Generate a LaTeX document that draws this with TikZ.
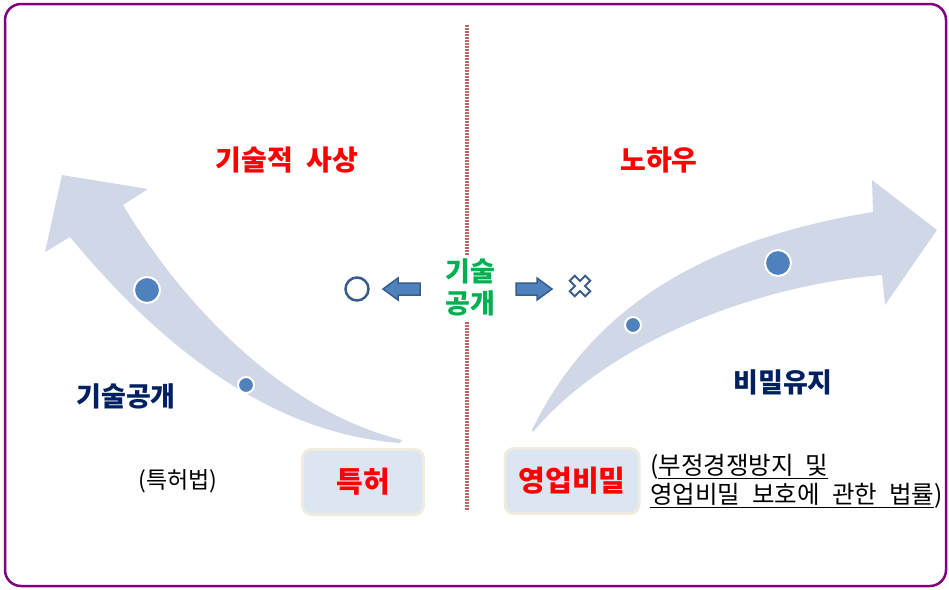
\documentclass[tikz,border=0pt]{standalone}
\usepackage{fontspec}
\setmainfont{Noto Sans CJK KR}[WordSpace=2.2]
\usetikzlibrary{calc}
\definecolor{framepurple}{RGB}{128,0,128}
\definecolor{dashred}{RGB}{185,105,105}
\definecolor{curvefill}{RGB}{208,216,232}
\definecolor{dotblue}{RGB}{79,129,189}
\definecolor{darkblue}{RGB}{56,93,138}
\definecolor{navy}{RGB}{0,32,96}
\definecolor{kgreen}{RGB}{0,176,80}
\definecolor{boxfill}{RGB}{220,230,242}
\definecolor{boxline}{RGB}{238,236,225}
\tikzset{
  redtitle/.style={text=red,font=\bfseries\fontsize{28}{32}\selectfont},
  navytitle/.style={text=navy,font=\bfseries\fontsize{27}{31}\selectfont},
  lawbox/.style={draw=boxline,line width=3pt,fill=boxfill,rounded corners=9pt,text=red,font=\bfseries\fontsize{29}{33}\selectfont},
  plaintext/.style={text=black,font=\fontsize{23}{27}\selectfont},
  lawtext/.style={text=black,font=\fontsize{24.5}{28}\selectfont},
  bigdot/.style={fill=dotblue,draw=white,line width=2pt},
  blockarrow/.style={fill=dotblue,draw=darkblue,line width=1.5pt,line join=miter},
  sepline/.style={draw=dashred,line width=3.5pt,dash pattern=on 2pt off 1pt},
}
\begin{document}
\begin{tikzpicture}[x=1pt,y=-1pt]
\useasboundingbox (0,0) rectangle (949,589);
% frame
\draw[framepurple,line width=2.5pt,rounded corners=16pt] (5,4) rectangle (946,586);
% separator
\coordinate (s1) at (467,25);
\coordinate (s2) at (467,255);
\coordinate (s3) at (467,322);
\coordinate (s4) at (467,510);
\draw[sepline] (s1) -- (s2);
\draw[sepline] (s3) -- (s4);
% left curved arrow
\fill[curvefill] (400,443) .. controls (290,435) and (180,370) .. (70,237)
  -- (45,252) -- (62,175) -- (148,189) -- (123,205)
  .. controls (180,300) and (280,410) .. (402,440) -- cycle;
% right curved arrow
\fill[curvefill] (532,430) .. controls (590,310) and (700,240) .. (873,212)
  -- (872,180) -- (937,230) -- (885,305) -- (882,275)
  .. controls (760,285) and (610,340) .. (533,432) -- cycle;
% dots
\node[bigdot,circle,minimum size=26pt,inner sep=0pt] (d1) at (147,290) {};
\node[bigdot,circle,minimum size=16pt,inner sep=0pt] (d2) at (246,385) {};
\node[bigdot,circle,minimum size=26pt,inner sep=0pt] (d3) at (778,263) {};
\node[bigdot,circle,minimum size=16pt,inner sep=0pt] (d4) at (633,325) {};
% titles
\node[redtitle] (t1) at (287,160) {기술적 사상};
\node[redtitle] (t2) at (659,160) {노하우};
\node[navytitle] (t3) at (126,396) {기술공개};
\node[navytitle] (t4) at (783,382) {비밀유지};
\node[text=kgreen,font=\bfseries\fontsize{27}{32}\selectfont,align=center] (t5) at (470,287) {기술\\공개};
% symbols
\node[circle,draw=darkblue,line width=2.5pt,minimum size=23pt,inner sep=0pt] (ok) at (357,289) {};
\draw[blockarrow] (383,289) -- (398,278) -- (398,283) -- (420,283) -- (420,295) -- (398,295) -- (398,300) -- cycle;
\draw[blockarrow] (552,289) -- (537,278) -- (537,283) -- (516,283) -- (516,295) -- (537,295) -- (537,300) -- cycle;
\draw[darkblue,line width=2pt,fill=white,shift={(580,286)},rotate=45,line join=miter]
  (-3.5,-11) -- (3.5,-11) -- (3.5,-3.5) -- (11,-3.5) -- (11,3.5) -- (3.5,3.5) -- (3.5,11)
  -- (-3.5,11) -- (-3.5,3.5) -- (-11,3.5) -- (-11,-3.5) -- (-3.5,-3.5) -- cycle;
% boxes
\node[lawbox,minimum width=121pt,minimum height=65pt] (pat) at (363,482) {특허};
\node[lawbox,minimum width=134pt,minimum height=65pt] (tsec) at (572,481) {영업비밀};
% law texts
\node[plaintext] (law1) at (178,481) {(특허법)};
\node[lawtext,anchor=west,inner sep=0pt] (law2) at (650,467) {(\underline{부정경쟁방지 및}};
\node[lawtext,anchor=west,inner sep=0pt] (law3) at (650,496) {\underline{영업비밀 보호에 관한 법률})};
\end{tikzpicture}
\end{document}
